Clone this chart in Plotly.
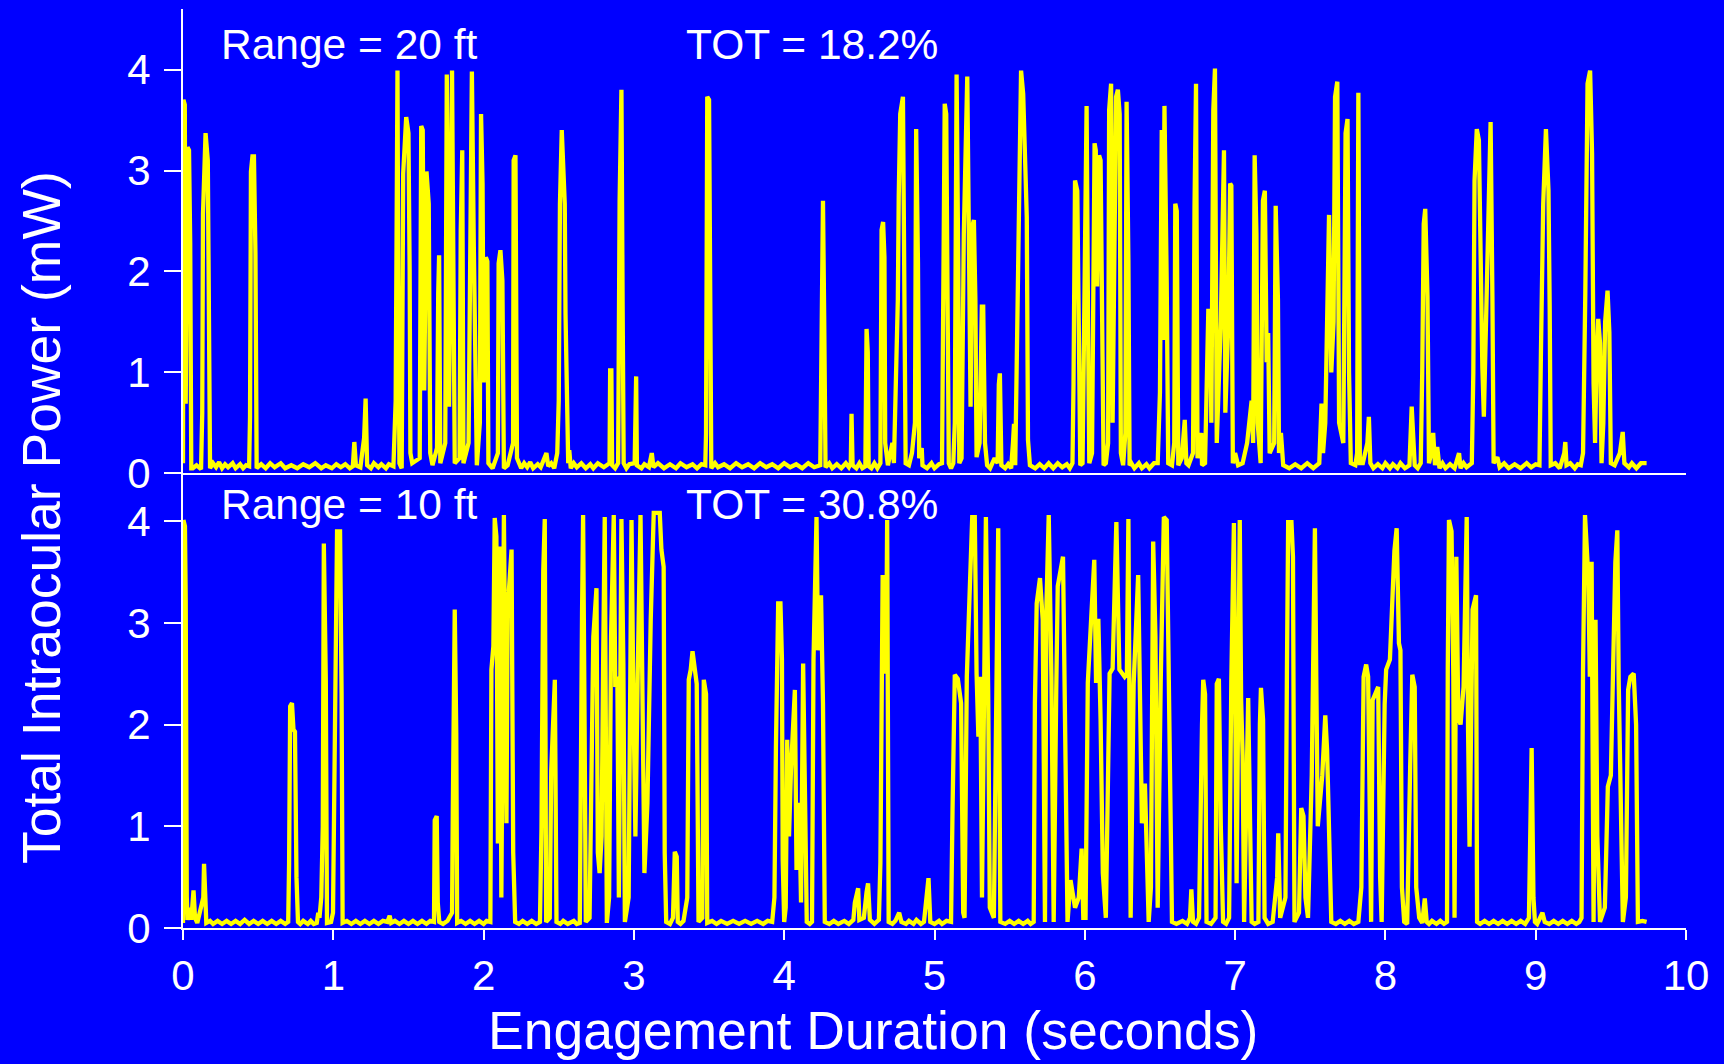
import plotly.graph_objects as go

# ---- data (time in s, power in mW) ----
top_pts = [
 (0.000,0.10),(0.003,3.70),(0.012,3.65),(0.018,0.69),(0.030,3.23),(0.040,3.20),(0.048,2.28),(0.055,0.05),(0.065,0.05),(0.09,0.08),(0.12,0.04),
 (0.128,0.60),(0.133,2.57),(0.150,3.37),(0.165,3.10),(0.172,0.59),(0.180,0.05),
 (0.20,0.10),(0.22,0.06),(0.24,0.11),(0.26,0.05),(0.28,0.09),(0.30,0.06),(0.33,0.10),(0.35,0.05),(0.38,0.09),(0.40,0.05),(0.42,0.08),(0.44,0.07),
 (0.446,0.56),(0.452,2.99),(0.462,3.14),(0.472,3.14),(0.482,2.18),(0.490,0.05),
 (0.52,0.09),(0.55,0.05),(0.58,0.10),(0.61,0.06),(0.65,0.10),(0.68,0.05),(0.72,0.08),(0.76,0.05),(0.80,0.09),(0.84,0.06),(0.88,0.10),(0.92,0.05),(0.95,0.08),(0.99,0.05),(1.02,0.09),(1.05,0.06),(1.08,0.09),(1.11,0.05),(1.13,0.07),
 (1.140,0.31),(1.150,0.08),(1.18,0.06),(1.205,0.35),(1.215,0.74),(1.225,0.08),
 (1.25,0.05),(1.27,0.10),(1.30,0.06),(1.32,0.09),(1.35,0.05),(1.37,0.09),(1.40,0.07),
 (1.415,0.72),(1.422,1.98),(1.427,3.99),(1.432,1.95),(1.440,0.10),(1.455,0.05),
 (1.465,2.97),(1.485,3.53),(1.500,3.37),(1.508,2.01),(1.513,0.20),(1.525,0.10),
 (1.575,0.15),(1.585,3.44),(1.595,3.40),(1.605,0.82),(1.620,2.99),(1.635,2.67),(1.645,0.20),(1.660,0.08),(1.690,0.25),(1.698,1.78),(1.704,2.16),(1.712,0.10),
 (1.745,0.30),(1.755,3.95),(1.770,0.66),(1.790,3.99),(1.800,2.18),(1.808,0.10),
 (1.840,0.15),(1.848,2.41),(1.858,3.20),(1.866,0.10),(1.900,0.30),(1.922,3.98),(1.935,2.24),(1.945,1.22),(1.955,0.08),
 (1.975,0.50),(1.983,3.56),(1.993,2.87),(2.000,0.90),(2.015,2.14),(2.025,2.10),(2.032,0.10),(2.06,0.05),(2.095,0.20),(2.100,2.08),(2.112,2.21),(2.125,1.91),(2.135,0.05),(2.160,0.08),(2.196,0.30),(2.200,3.10),(2.212,3.15),(2.222,0.15),(2.25,0.05),
 (2.27,0.10),(2.29,0.06),(2.31,0.11),(2.33,0.05),(2.36,0.09),(2.38,0.06),(2.418,0.20),(2.43,0.07),(2.45,0.10),(2.47,0.05),(2.490,0.20),(2.500,0.72),(2.508,2.67),(2.520,3.40),(2.530,3.13),(2.540,2.67),(2.545,1.58),(2.555,0.23),(2.563,0.10),(2.57,0.23),(2.58,0.05),
 (2.60,0.10),(2.62,0.06),(2.65,0.10),(2.68,0.05),(2.71,0.09),(2.73,0.05),(2.76,0.10),(2.80,0.06),(2.838,0.10),(2.842,1.02),(2.850,1.02),(2.855,0.08),(2.875,0.05),(2.895,0.10),(2.905,2.70),(2.912,3.20),(2.917,3.80),(2.925,1.65),(2.932,0.10),
 (2.95,0.05),(2.97,0.09),(3.005,0.10),(3.008,0.96),(3.015,0.96),(3.02,0.08),(3.05,0.05),(3.07,0.09),(3.10,0.06),(3.119,0.20),(3.13,0.06),(3.16,0.10),(3.20,0.05),(3.24,0.09),(3.28,0.05),(3.31,0.10),(3.35,0.06),(3.39,0.09),(3.42,0.05),(3.45,0.09),(3.475,0.08),(3.480,0.40),(3.488,3.73),(3.500,3.70),(3.508,0.96),(3.515,0.05),
 (3.54,0.10),(3.56,0.06),(3.60,0.09),(3.64,0.05),(3.68,0.10),(3.72,0.06),(3.76,0.09),(3.80,0.05),(3.84,0.10),(3.88,0.06),(3.92,0.09),(3.96,0.05),(4.00,0.10),(4.04,0.06),(4.08,0.09),(4.12,0.05),(4.16,0.10),(4.20,0.06),(4.240,0.08),(4.245,0.86),(4.250,2.54),(4.258,2.70),(4.266,1.55),(4.275,0.06),
 (4.30,0.10),(4.32,0.05),(4.35,0.09),(4.38,0.05),(4.41,0.10),(4.43,0.06),(4.443,0.10),(4.448,0.59),(4.455,0.08),(4.48,0.05),(4.50,0.10),(4.52,0.05),(4.54,0.07),(4.544,1.00),(4.548,1.43),(4.556,1.20),(4.562,0.07),(4.58,0.05),(4.60,0.10),(4.62,0.05),(4.640,0.10),
 (4.648,2.41),(4.658,2.49),(4.667,2.14),(4.672,0.30),(4.690,0.08),(4.720,0.30),(4.730,0.10),(4.756,1.72),(4.762,2.74),(4.772,3.56),(4.790,3.73),(4.800,1.22),(4.808,0.10),(4.830,0.08),(4.850,0.20),(4.870,0.50),(4.878,3.41),(4.890,2.08),(4.898,0.15),(4.915,0.25),(4.920,0.08),
 (4.95,0.05),(4.98,0.10),(5.00,0.05),(5.03,0.09),(5.05,0.10),(5.058,2.21),(5.068,3.66),(5.078,3.56),(5.088,0.63),(5.095,0.10),(5.11,0.05),(5.125,0.10),(5.135,0.50),(5.147,3.95),(5.158,2.05),(5.165,0.10),(5.180,0.15),
 (5.195,2.37),(5.218,3.93),(5.230,2.51),(5.240,0.66),(5.250,2.44),(5.262,2.51),(5.272,1.72),(5.280,0.16),(5.300,0.30),(5.315,1.65),(5.324,1.65),(5.336,0.30),(5.350,0.08),(5.37,0.05),(5.400,0.15),(5.420,0.10),(5.428,0.88),(5.435,0.99),(5.445,0.08),(5.47,0.05),(5.49,0.09),(5.51,0.05),(5.522,0.30),(5.529,0.49),(5.537,0.08),
 (5.555,1.88),(5.576,3.99),(5.590,3.76),(5.600,3.07),(5.614,2.54),(5.622,0.33),(5.635,0.08),(5.67,0.05),(5.70,0.09),(5.73,0.05),(5.76,0.10),(5.79,0.05),(5.82,0.10),(5.85,0.06),(5.88,0.09),(5.90,0.05),(5.918,0.10),(5.925,0.89),(5.935,2.90),(5.950,2.80),(5.960,1.22),(5.970,0.08),
 (5.985,0.10),(6.000,2.37),(6.012,3.64),(6.022,1.39),(6.030,0.10),(6.048,0.20),(6.057,1.81),(6.065,3.27),(6.073,3.20),(6.082,1.85),(6.095,3.15),(6.105,3.10),(6.118,1.15),(6.125,0.08),(6.140,0.10),(6.155,0.30),(6.162,3.60),(6.175,3.86),(6.185,0.50),(6.208,3.73),(6.220,3.80),(6.232,3.56),(6.240,0.20),(6.255,0.08),(6.270,0.40),(6.278,3.68),(6.290,2.11),(6.298,0.08),
 (6.31,0.10),(6.33,0.05),(6.36,0.10),(6.38,0.05),(6.41,0.09),(6.43,0.05),(6.46,0.10),(6.485,0.10),(6.500,0.80),(6.512,3.40),(6.520,1.32),(6.530,3.64),(6.545,1.88),(6.555,0.10),(6.580,0.08),(6.595,0.30),(6.602,2.67),(6.612,2.60),(6.622,0.08),(6.645,0.15),(6.665,0.53),(6.676,0.10),(6.690,0.08),(6.720,0.20),(6.730,2.64),(6.740,3.86),(6.750,0.15),(6.775,0.40),(6.780,0.08),(6.800,0.10),(6.822,1.63),(6.835,1.50),(6.842,0.50),(6.855,3.60),(6.866,4.01),(6.878,0.30),(6.905,1.50),(6.915,2.21),(6.926,3.20),(6.935,0.60),(6.955,1.50),(6.967,2.87),(6.975,2.85),(6.985,0.10),(7.000,0.20),(7.020,0.08),
 (7.05,0.10),(7.080,0.30),(7.110,0.72),(7.120,0.30),(7.130,3.15),(7.142,2.37),(7.150,0.50),(7.170,0.10),(7.185,2.70),(7.198,2.80),(7.210,1.10),(7.220,1.39),(7.230,0.20),(7.260,0.30),(7.270,2.65),(7.285,1.72),(7.292,0.20),(7.305,0.40),(7.320,0.08),(7.36,0.05),(7.40,0.09),(7.44,0.05),(7.48,0.10),(7.52,0.05),(7.560,0.10),(7.575,0.69),(7.585,0.20),(7.600,0.50),(7.610,1.20),(7.625,2.56),(7.640,1.00),(7.655,1.50),(7.665,3.73),(7.680,3.88),(7.692,0.50),(7.720,0.30),(7.735,3.37),(7.748,3.51),(7.758,1.00),(7.770,0.10),(7.800,0.08),(7.812,0.20),(7.820,3.77),(7.830,0.10),(7.850,0.10),(7.880,0.30),(7.890,0.56),(7.900,0.10),
 (7.92,0.05),(7.95,0.09),(7.98,0.05),(8.00,0.10),(8.03,0.05),(8.05,0.09),(8.08,0.05),(8.10,0.10),(8.13,0.05),(8.160,0.08),(8.175,0.66),(8.185,0.40),(8.195,0.08),(8.215,0.05),(8.235,0.10),(8.245,1.00),(8.255,2.47),(8.265,2.62),(8.280,1.75),(8.290,0.10),(8.305,0.20),(8.318,0.40),(8.330,0.08),(8.345,0.26),(8.360,0.05),(8.38,0.10),(8.40,0.05),(8.43,0.09),(8.46,0.05),(8.490,0.20),(8.500,0.05),(8.52,0.10),(8.54,0.06),
 (8.575,0.10),(8.585,1.00),(8.593,2.90),(8.608,3.41),(8.622,3.30),(8.632,1.88),(8.645,1.05),(8.655,0.56),(8.665,1.20),(8.680,2.21),(8.700,3.48),(8.712,1.75),(8.720,0.10),(8.745,0.16),(8.760,0.06),
 (8.79,0.10),(8.82,0.05),(8.86,0.09),(8.90,0.05),(8.94,0.10),(8.97,0.06),(9.00,0.09),(9.025,0.08),(9.035,1.22),(9.050,2.67),(9.068,3.41),(9.085,2.80),(9.093,1.65),(9.100,0.08),(9.130,0.10),(9.16,0.05),(9.190,0.20),(9.197,0.31),(9.205,0.08),(9.23,0.10),(9.26,0.05),(9.28,0.09),(9.300,0.08),(9.315,0.20),(9.330,1.78),(9.345,3.86),(9.362,3.99),(9.375,3.17),(9.385,0.89),(9.395,0.30),(9.405,1.10),(9.416,1.53),(9.428,1.29),(9.438,0.10),(9.450,0.50),(9.462,1.50),(9.478,1.81),(9.490,1.40),(9.500,0.10),(9.525,0.08),(9.560,0.20),(9.579,0.41),(9.590,0.10),(9.62,0.06),(9.64,0.10),(9.67,0.05),(9.70,0.10),(9.738,0.10),
]

bot_pts = [
 (0.000,0.05),(0.003,4.01),(0.013,3.95),(0.018,3.22),(0.025,0.31),(0.030,0.08),(0.045,0.20),(0.055,0.08),(0.070,0.37),(0.080,0.10),(0.095,0.05),(0.135,0.30),(0.140,0.63),(0.148,0.35),(0.155,0.05),
 (0.18,0.07),(0.20,0.04),(0.23,0.07),(0.26,0.04),(0.29,0.07),(0.32,0.04),(0.35,0.07),(0.38,0.04),(0.41,0.08),(0.44,0.04),(0.47,0.07),(0.50,0.04),(0.53,0.07),(0.56,0.04),(0.59,0.07),(0.62,0.04),(0.65,0.07),(0.68,0.04),(0.700,0.06),
 (0.706,0.64),(0.713,2.18),(0.725,2.21),(0.735,1.95),(0.745,1.93),(0.755,0.50),(0.765,0.06),(0.78,0.04),(0.80,0.07),(0.83,0.04),(0.85,0.07),(0.870,0.04),(0.890,0.05),(0.900,0.15),(0.908,0.10),(0.920,0.30),(0.930,1.00),(0.937,3.78),(0.950,2.44),(0.958,0.05),(0.985,0.06),(0.998,0.15),(1.010,2.41),(1.025,3.90),(1.045,3.90),(1.055,2.31),(1.062,0.05),
 (1.09,0.07),(1.12,0.04),(1.15,0.07),(1.18,0.04),(1.21,0.07),(1.24,0.04),(1.27,0.07),(1.30,0.04),(1.33,0.07),(1.360,0.06),(1.375,0.12),(1.385,0.05),(1.41,0.07),(1.44,0.04),(1.47,0.07),(1.50,0.04),(1.53,0.07),(1.56,0.04),(1.59,0.07),(1.62,0.04),(1.645,0.07),(1.670,0.06),(1.675,1.06),(1.688,1.10),(1.695,0.25),(1.705,0.06),(1.73,0.04),(1.760,0.07),(1.790,0.15),(1.795,1.13),(1.808,3.13),(1.818,1.92),(1.824,0.05),
 (1.85,0.07),(1.88,0.04),(1.91,0.07),(1.94,0.04),(1.97,0.07),(2.00,0.04),(2.02,0.07),(2.045,0.06),(2.052,2.54),(2.065,2.77),(2.074,4.03),(2.085,3.85),(2.095,0.83),(2.110,3.75),(2.118,0.30),(2.135,4.06),(2.145,2.34),(2.152,1.03),(2.160,3.13),(2.186,3.72),(2.197,0.74),(2.210,0.06),
 (2.235,0.04),(2.26,0.07),(2.29,0.04),(2.32,0.07),(2.35,0.04),(2.375,0.06),(2.385,0.97),(2.397,3.52),(2.407,4.02),(2.416,0.06),(2.440,0.10),(2.450,1.55),(2.474,2.44),(2.485,0.06),(2.51,0.04),(2.53,0.07),(2.56,0.04),(2.60,0.07),(2.62,0.04),(2.640,0.05),(2.655,3.09),(2.662,4.06),(2.672,1.98),(2.680,0.06),(2.705,0.10),(2.730,2.86),(2.751,3.34),(2.760,0.74),(2.772,0.54),(2.785,0.90),(2.795,2.57),(2.806,4.04),(2.820,0.05),(2.835,0.30),(2.848,2.86),(2.866,4.06),(2.876,2.37),(2.890,2.47),(2.900,0.30),(2.910,2.50),(2.917,4.02),(2.930,2.60),(2.940,0.06),(2.965,0.30),(2.973,2.57),(2.984,4.01),(2.995,2.47),(3.010,0.90),(3.025,2.47),(3.044,4.06),(3.060,1.88),(3.070,0.54),(3.090,1.23),(3.112,3.03),(3.132,4.08),(3.172,4.08),(3.183,3.72),(3.198,3.55),(3.205,0.74),(3.215,0.06),
 (3.24,0.04),(3.260,0.10),(3.272,0.75),(3.285,0.70),(3.292,0.06),(3.31,0.04),(3.330,0.07),(3.355,0.30),(3.365,2.44),(3.378,2.54),(3.390,2.72),(3.405,2.54),(3.418,2.40),(3.430,0.06),(3.455,0.10),(3.465,2.44),(3.480,2.30),(3.488,0.05),
 (3.52,0.07),(3.55,0.04),(3.58,0.07),(3.62,0.04),(3.66,0.07),(3.70,0.04),(3.74,0.07),(3.78,0.04),(3.82,0.07),(3.86,0.04),(3.89,0.07),(3.920,0.06),(3.935,0.30),(3.945,1.78),(3.960,3.19),(3.975,3.19),(3.985,2.64),(3.990,0.67),(4.000,0.06),(4.010,0.20),(4.020,1.85),(4.032,0.90),(4.045,1.55),(4.071,2.34),(4.082,0.57),(4.100,1.23),(4.112,0.25),(4.126,2.60),(4.140,1.23),(4.150,0.06),
 (4.17,0.04),(4.185,0.06),(4.195,2.64),(4.215,4.04),(4.225,2.73),(4.245,3.27),(4.258,2.21),(4.270,0.06),(4.30,0.04),(4.33,0.07),(4.36,0.04),(4.40,0.07),(4.43,0.04),(4.460,0.08),(4.470,0.25),(4.492,0.39),(4.500,0.08),(4.530,0.10),(4.548,0.35),(4.558,0.44),(4.570,0.08),(4.60,0.04),(4.630,0.08),(4.640,0.64),(4.655,3.45),(4.672,3.45),(4.678,2.50),(4.685,4.01),(4.695,0.06),
 (4.72,0.04),(4.74,0.07),(4.765,0.15),(4.78,0.06),(4.81,0.04),(4.83,0.07),(4.86,0.04),(4.88,0.08),(4.91,0.04),(4.930,0.06),(4.960,0.49),(4.972,0.06),(5.00,0.04),(5.03,0.07),(5.05,0.04),(5.08,0.07),(5.110,0.06),(5.120,1.16),(5.135,2.49),(5.155,2.45),(5.177,2.21),(5.191,0.15),
 (5.200,0.10),(5.215,2.47),(5.230,3.09),(5.251,4.04),(5.268,4.04),(5.280,2.50),(5.292,1.88),(5.305,2.47),(5.316,0.30),(5.330,2.50),(5.342,4.04),(5.357,2.34),(5.368,0.20),(5.395,0.10),(5.410,2.50),(5.424,3.93),(5.438,0.06),
 (5.47,0.04),(5.50,0.07),(5.53,0.04),(5.56,0.07),(5.59,0.04),(5.62,0.07),(5.64,0.04),(5.660,0.06),(5.668,2.21),(5.680,3.19),(5.702,3.44),(5.720,3.03),(5.735,0.06),(5.745,3.19),(5.760,4.06),(5.778,2.47),(5.793,0.06),(5.810,2.34),(5.820,3.36),(5.855,3.65),(5.870,1.55),(5.885,0.06),(5.905,0.47),(5.935,0.20),(5.960,0.30),(5.979,0.78),(5.990,0.10),(6.005,0.10),
 (6.020,2.41),(6.045,3.13),(6.063,3.62),(6.075,2.41),(6.090,3.04),(6.105,2.05),(6.120,0.54),(6.140,0.10),(6.165,2.50),(6.185,2.55),(6.210,3.99),(6.230,2.54),(6.265,2.47),(6.280,2.50),(6.290,4.02),(6.305,0.10),
 (6.325,2.40),(6.355,3.47),(6.368,1.88),(6.380,1.03),(6.400,1.42),(6.425,0.06),(6.440,0.40),(6.455,3.80),(6.470,2.86),(6.485,0.20),(6.505,2.41),(6.526,4.04),(6.545,4.01),(6.560,2.44),(6.580,0.06),
 (6.61,0.04),(6.65,0.07),(6.68,0.04),(6.700,0.10),(6.709,0.38),(6.720,0.06),(6.74,0.04),(6.760,0.10),(6.780,2.00),(6.788,2.44),(6.800,2.30),(6.810,0.06),(6.84,0.04),(6.870,0.10),(6.878,2.40),(6.892,2.45),(6.905,1.00),(6.920,0.06),(6.94,0.04),(6.960,0.10),(6.975,2.45),(6.992,3.98),(7.010,0.44),(7.031,4.01),(7.040,2.25),(7.050,1.70),(7.060,0.06),(7.080,1.50),(7.087,2.26),(7.100,1.00),(7.110,0.06),(7.13,0.04),(7.155,0.06),(7.165,2.00),(7.172,2.36),(7.186,2.05),(7.196,0.10),
 (7.22,0.04),(7.250,0.06),(7.280,0.50),(7.287,0.93),(7.300,0.10),(7.335,0.30),(7.345,2.54),(7.353,3.99),(7.375,3.99),(7.385,3.65),(7.395,0.06),(7.425,0.15),(7.440,1.18),(7.455,1.10),(7.468,0.30),(7.485,0.10),(7.510,1.50),(7.522,3.60),(7.531,3.93),(7.540,2.47),(7.550,1.00),(7.580,1.50),(7.592,2.05),(7.600,2.09),(7.612,1.75),(7.625,0.77),(7.640,0.06),
 (7.67,0.04),(7.70,0.07),(7.73,0.04),(7.76,0.07),(7.79,0.04),(7.820,0.06),(7.840,0.40),(7.855,2.47),(7.872,2.59),(7.885,2.47),(7.898,0.90),(7.905,0.06),(7.915,2.24),(7.952,2.37),(7.965,0.50),(7.975,0.06),
 (7.995,2.20),(8.005,2.54),(8.030,2.64),(8.050,3.45),(8.060,3.71),(8.075,3.93),(8.090,2.80),(8.100,2.73),(8.110,0.40),(8.125,0.06),(8.145,0.04),(8.165,1.60),(8.179,2.49),(8.195,2.37),(8.205,0.40),(8.225,0.10),(8.245,0.05),(8.262,0.29),(8.275,0.06),(8.29,0.04),(8.31,0.07),(8.34,0.04),(8.365,0.07),(8.39,0.04),
 (8.410,0.06),(8.415,2.54),(8.423,4.01),(8.440,3.90),(8.452,2.47),(8.460,0.10),(8.472,3.65),(8.485,2.08),(8.500,2.00),(8.520,2.37),(8.541,4.04),(8.550,1.95),(8.560,0.80),(8.580,3.13),(8.603,3.27),(8.610,0.06),
 (8.63,0.04),(8.66,0.07),(8.69,0.04),(8.72,0.07),(8.75,0.04),(8.78,0.07),(8.81,0.04),(8.84,0.07),(8.87,0.04),(8.900,0.07),(8.93,0.04),(8.955,0.10),(8.965,1.50),(8.973,1.77),(8.985,0.30),(8.995,0.06),(9.01,0.04),(9.030,0.10),(9.045,0.15),(9.060,0.06),(9.09,0.04),(9.12,0.07),(9.15,0.04),(9.18,0.07),(9.21,0.04),(9.24,0.07),(9.27,0.04),(9.290,0.06),(9.305,0.10),
 (9.315,2.54),(9.328,4.06),(9.350,3.45),(9.360,2.47),(9.372,3.60),(9.385,0.06),(9.398,3.03),(9.410,0.90),(9.428,0.06),(9.460,0.20),(9.480,1.39),(9.500,1.50),(9.530,3.60),(9.543,3.91),(9.552,2.44),(9.568,1.00),(9.580,0.06),(9.600,0.30),(9.615,2.34),(9.630,2.47),(9.652,2.50),(9.668,2.00),(9.680,0.06),(9.71,0.07),(9.738,0.06),
]

t_top = [p[0] for p in top_pts]
p_top = [p[1] for p in top_pts]
t_bot = [p[0] for p in bot_pts]
p_bot = [p[1] for p in bot_pts]

x_ticks = [0, 1, 2, 3, 4, 5, 6, 7, 8, 9, 10]
y_ticks = [0, 1, 2, 3, 4]
labels_top = ["Range = 20 ft", "TOT = 18.2%"]
labels_bot = ["Range = 10 ft", "TOT = 30.8%"]
x_title = "Engagement Duration (seconds)"
y_title = "Total Intraocular Power (mW)"

FONT = "Liberation Sans, Arial, sans-serif"
BLUE = "#0000FF"
YEL = "#FFFF00"
W = 1724; H = 1064
ML, MR, MT, MB = 183, 38, 9, 136
PW = W - ML - MR; PH = H - MT - MB
split = (928 - 473.3) / PH

fig = go.Figure()
fig.add_trace(go.Scatter(x=t_top, y=p_top, mode="lines", line=dict(color=YEL, width=4.3),
                         xaxis="x2", yaxis="y2", showlegend=False, hoverinfo="skip"))
fig.add_trace(go.Scatter(x=t_bot, y=p_bot, mode="lines", line=dict(color=YEL, width=4.3),
                         xaxis="x", yaxis="y", showlegend=False, hoverinfo="skip"))

axis_common = dict(showgrid=False, zeroline=False, showline=True, linecolor="white", linewidth=2)
yfont = dict(family=FONT, size=42, color="white")
fig.update_layout(
    width=W, height=H,
    paper_bgcolor=BLUE, plot_bgcolor=BLUE,
    margin=dict(l=ML, r=MR, t=MT, b=MB, pad=0),
    xaxis=dict(domain=[0, 1], range=[0, 10], anchor="y", tickvals=x_ticks,
               ticks="outside", ticklen=10, tickwidth=2, tickcolor="white",
               tickfont=dict(family=FONT, size=42, color="white"), **axis_common),
    yaxis=dict(domain=[0, split], range=[0, 4.47], anchor="x", tickvals=y_ticks,
               ticks="outside", ticklen=17, tickwidth=2, tickcolor="white",
               ticklabelstandoff=5, tickfont=yfont, **axis_common),
    xaxis2=dict(domain=[0, 1], range=[0, 10], anchor="y2", matches="x", showticklabels=False,
                ticks="", **axis_common),
    yaxis2=dict(domain=[split, 1], range=[0, 4.6], anchor="x2", tickvals=y_ticks,
                ticks="outside", ticklen=17, tickwidth=2, tickcolor="white",
                ticklabelstandoff=5, tickfont=yfont, **axis_common),
)

def px_x(X):
    return (X - ML) / PW

def px_y(Y):
    return (H - MB - Y) / PH

ann_font = dict(family=FONT, size=42.5, color="white")
anns = [
    dict(text=labels_top[0], x=px_x(219), y=px_y(44)),
    dict(text=labels_top[1], x=px_x(684), y=px_y(44)),
    dict(text=labels_bot[0], x=px_x(219), y=px_y(504)),
    dict(text=labels_bot[1], x=px_x(684), y=px_y(504)),
]
for a in anns:
    fig.add_annotation(xref="paper", yref="paper", xanchor="left", yanchor="middle",
                       showarrow=False, font=ann_font, **a)

fig.add_annotation(text=x_title, xref="paper", yref="paper", x=px_x(873), y=px_y(1030),
                   xanchor="center", yanchor="middle", showarrow=False,
                   font=dict(family=FONT, size=53.5, color="white"))
fig.add_annotation(text=y_title, xref="paper", yref="paper", x=px_x(41), y=px_y(518),
                   xanchor="center", yanchor="middle", showarrow=False, textangle=-90,
                   font=dict(family=FONT, size=53.5, color="white"))

fig.write_html("out.html")
